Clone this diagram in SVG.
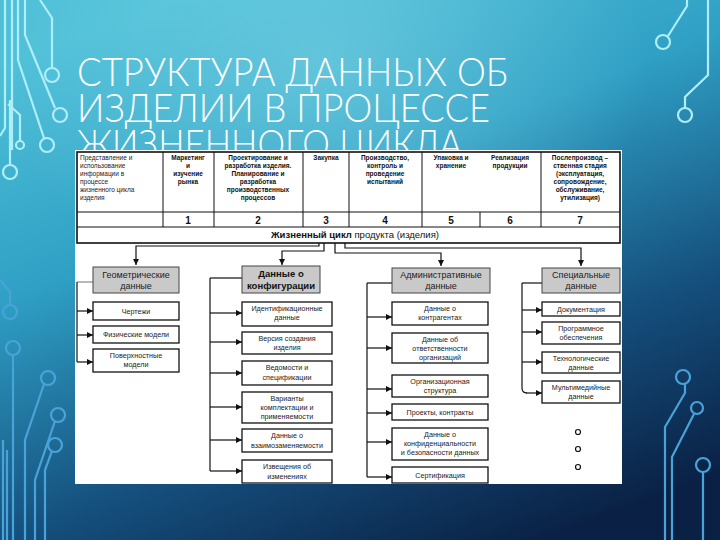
<svg xmlns="http://www.w3.org/2000/svg" width="720" height="540" viewBox="0 0 720 540">
<defs>
<linearGradient id="bg" x1="0.25" y1="0" x2="0.75" y2="1">
<stop offset="0" stop-color="#4fc0d8"/>
<stop offset="0.35" stop-color="#2f9fc4"/>
<stop offset="0.7" stop-color="#15507e"/>
<stop offset="1" stop-color="#0a2145"/>
</linearGradient>
<radialGradient id="hl" cx="0.45" cy="0.12" r="0.45">
<stop offset="0" stop-color="#7fd6e6" stop-opacity="0.55"/>
<stop offset="1" stop-color="#7fd6e6" stop-opacity="0"/>
</radialGradient>
<clipPath id="titleclip"><rect x="0" y="0" width="720" height="150"/></clipPath>
<marker id="ar" viewBox="0 0 8 8" refX="8" refY="4" markerWidth="6" markerHeight="6" markerUnits="userSpaceOnUse" orient="auto">
<path d="M0,0 L8,4 L0,8 z" fill="#111"/>
</marker>
<style>
.ct{fill:none;stroke:#aeeef8;stroke-width:2.2}
.cb{fill:none;stroke:#4aa3d8;stroke-width:2.2}
.title{font-family:Lato,"Open Sans","Liberation Sans",sans-serif;font-weight:300;font-size:40px;fill:#ffffff}
.t{font-family:"Liberation Sans",Arial,sans-serif;font-size:7.2px;fill:#222;text-anchor:middle}
.tl{font-family:"Liberation Sans",Arial,sans-serif;font-size:6.5px;fill:#222}
.tb{font-family:"Liberation Sans",Arial,sans-serif;font-size:6.5px;fill:#111;font-weight:bold;text-anchor:middle}
.num{font-family:"Liberation Sans",Arial,sans-serif;font-size:10px;fill:#111;font-weight:bold;text-anchor:middle}
.h{font-family:"Liberation Sans",Arial,sans-serif;font-size:9px;fill:#222;text-anchor:middle}
.hb{font-family:"Liberation Sans",Arial,sans-serif;font-size:9.5px;fill:#111;font-weight:bold;text-anchor:middle}
.hbox{fill:#c9c9c9;stroke:#444;stroke-width:1}
.box{fill:#fff;stroke:#111;stroke-width:1.3}
.cell{fill:none;stroke:#111;stroke-width:1}
.ln{fill:none;stroke:#111;stroke-width:1.2}
.lg{fill:none;stroke:#888;stroke-width:1.2}
.arr{fill:none;stroke:#111;stroke-width:1.2;marker-end:url(#ar)}
</style>
</defs>
<rect width="720" height="540" fill="url(#bg)"/>
<rect width="720" height="540" fill="url(#hl)"/>

<g id="circuits">
<path class="ct" d="M5,0 V128 L0,136"/>
<path class="ct" d="M12,0 V150"/>
<path class="ct" d="M40,0 L52,18 V68"/>
<circle class="ct" cx="52" cy="75" r="7"/>
<path class="ct" d="M25,0 V35 L55,108"/>
<circle class="ct" cx="60" cy="115" r="7"/>
<path class="ct" d="M18,0 V60 L44,138"/>
<circle class="ct" cx="47" cy="145" r="7"/>
<path class="ct" d="M20,141 V115 L8,104"/>
<circle class="ct" cx="20" cy="145" r="4"/>
<path class="ct" d="M10,165 V100"/>
<circle class="ct" cx="10" cy="172" r="7"/>
<path class="ct" d="M687,0 V6 L668,36"/>
<circle class="ct" cx="663" cy="42" r="7"/>
<path class="ct" d="M708,0 V75 L685,97 V108"/>
<circle class="ct" cx="685" cy="115" r="7"/>
<path class="cb" d="M0,280 L10,292 V305"/>
<circle class="cb" cx="10" cy="312" r="7"/>
<path class="cb" d="M13,355 V540"/>
<circle class="cb" cx="13" cy="348" r="7"/>
<path class="cb" d="M44,384 L25,440 V540"/>
<circle class="cb" cx="48" cy="378" r="7"/>
<path class="cb" d="M55,421 L35,480 V540"/>
<circle class="cb" cx="58" cy="415" r="7"/>
<path class="cb" d="M52,451 L45,470 V540"/>
<circle class="cb" cx="55" cy="445" r="7"/>
<path class="cb" d="M3,440 V540 M7,450 V540"/>
<path class="cb" d="M685,384 V393 L665,427 V540"/>
<circle class="cb" cx="683" cy="377" r="7"/>
<path class="cb" d="M694,414 L672,457 V540"/>
<circle class="cb" cx="697" cy="408" r="6"/>
<path class="cb" d="M703,472 V540"/>
<circle class="cb" cx="703" cy="465" r="7"/>
</g>

<g id="title">
<text class="title" x="77" y="86" textLength="431" lengthAdjust="spacingAndGlyphs">СТРУКТУРА ДАННЫХ ОБ</text>
<text class="title" x="77" y="122" textLength="413" lengthAdjust="spacingAndGlyphs">ИЗДЕЛИИ В ПРОЦЕССЕ</text>
<text class="title" x="77" y="158" textLength="385" lengthAdjust="spacingAndGlyphs" clip-path="url(#titleclip)">ЖИЗНЕННОГО ЦИКЛА</text>
</g>

<rect id="picture" x="75" y="150" width="547" height="334" fill="#ffffff"/>

<g id="table">
<rect x="77" y="152" width="543" height="91" fill="none" stroke="#111" stroke-width="1.6"/>
<line class="cell" x1="77" y1="212" x2="620" y2="212"/>
<line class="cell" x1="77" y1="227" x2="620" y2="227"/>
<path class="cell" d="M163,152 V227 M214,152 V227 M303,152 V227 M349,152 V227 M422,152 V227 M480,212 V227 M541,152 V227"/>
<text class="tl" x="80" y="160">Представление и</text>
<text class="tl" x="80" y="168">использование</text>
<text class="tl" x="80" y="176">информации в</text>
<text class="tl" x="80" y="184">процессе</text>
<text class="tl" x="80" y="192">жизненного цикла</text>
<text class="tl" x="80" y="200">изделия</text>
<text class="tb" x="188" y="160">Маркетинг</text>
<text class="tb" x="188" y="168">и</text>
<text class="tb" x="188" y="176">изучение</text>
<text class="tb" x="188" y="184">рынка</text>
<text class="tb" x="258" y="160">Проектирование и</text>
<text class="tb" x="258" y="168">разработка изделия.</text>
<text class="tb" x="258" y="176">Планирование и</text>
<text class="tb" x="258" y="184">разработка</text>
<text class="tb" x="258" y="192">производственных</text>
<text class="tb" x="258" y="200">процессов</text>
<text class="tb" x="326" y="160">Закупка</text>
<text class="tb" x="385" y="160">Производство,</text>
<text class="tb" x="385" y="168">контроль и</text>
<text class="tb" x="385" y="176">проведение</text>
<text class="tb" x="385" y="184">испытаний</text>
<text class="tb" x="451" y="160">Упаковка и</text>
<text class="tb" x="451" y="168">хранение</text>
<text class="tb" x="510" y="160">Реализация</text>
<text class="tb" x="510" y="168">продукции</text>
<text class="tb" x="580" y="160">Послепроизвод –</text>
<text class="tb" x="580" y="168">ственная стадия</text>
<text class="tb" x="580" y="176">(эксплуатация,</text>
<text class="tb" x="580" y="184">сопровождение,</text>
<text class="tb" x="580" y="192">обслуживание,</text>
<text class="tb" x="580" y="200">утилизация)</text>
<text class="num" x="188" y="224">1</text>
<text class="num" x="258" y="224">2</text>
<text class="num" x="326" y="224">3</text>
<text class="num" x="385" y="224">4</text>
<text class="num" x="451" y="224">5</text>
<text class="num" x="510" y="224">6</text>
<text class="num" x="580" y="224">7</text>
<text class="hb" x="355" y="238" font-size="9"><tspan>Жизненный цикл </tspan><tspan font-weight="normal">продукта (изделия)</tspan></text>
</g>

<g id="connectors">
<path class="arr" d="M319,243 V246 H136 V265"/>
<path class="arr" d="M324,243 V251 H282 V265"/>
<path class="arr" d="M335,243 V253 H441 V266"/>
<path class="arr" d="M345,243 V248 H581 V266"/>
<path class="lg" d="M77,282 H93"/>
<path class="ln" d="M77,282 V362"/>
<path class="arr" d="M77,311 H93"/>
<path class="arr" d="M77,335 H93"/>
<path class="arr" d="M77,362 H93"/>
<path class="ln" d="M210,278 V471"/>
<path class="ln" d="M210,278 H242"/>
<path class="arr" d="M210,313 H242"/>
<path class="arr" d="M210,342 H242"/>
<path class="arr" d="M210,373 H242"/>
<path class="arr" d="M210,407 H242"/>
<path class="arr" d="M210,440 H242"/>
<path class="arr" d="M210,471 H242"/>
<path class="ln" d="M367,283 V477"/>
<path class="ln" d="M367,283 H392"/>
<path class="arr" d="M367,317 H392"/>
<path class="arr" d="M367,348 H392"/>
<path class="arr" d="M367,389 H392"/>
<path class="arr" d="M367,413 H392"/>
<path class="arr" d="M367,442 H392"/>
<path class="arr" d="M367,477 H392"/>
<path class="ln" d="M522,283 H542"/>
<path class="ln" d="M522,283 V388 Q522,393 527,393"/>
<path class="arr" d="M522,310 H542"/>
<path class="arr" d="M522,332 H542"/>
<path class="arr" d="M522,362 H542"/>
<path class="arr" d="M526,393 H542"/>
</g>

<g id="geometric">
<rect class="hbox" x="93" y="267" width="86" height="26"/>
<text class="h" x="136" y="278">Геометрические</text>
<text class="h" x="136" y="289">данные</text>
</g>
<g id="g-drawings"><rect class="box" x="93" y="302" width="86" height="18"/><text class="t" x="136" y="314">Чертежи</text></g>
<g id="g-physical"><rect class="box" x="93" y="326" width="86" height="17"/><text class="t" x="136" y="337">Физические модели</text></g>
<g id="g-surface"><rect class="box" x="93" y="349" width="86" height="23"/><text class="t" x="136" y="358">Поверхностные</text><text class="t" x="136" y="367">модели</text></g>

<g id="configuration">
<rect class="hbox" x="242" y="266" width="78" height="27" stroke="#111" stroke-width="1.6"/>
<text class="hb" x="281" y="277">Данные о</text>
<text class="hb" x="281" y="289">конфигурации</text>
</g>
<g id="c-ident"><rect class="box" x="242" y="302" width="90" height="24"/><text class="t" x="287" y="311">Идентификационные</text><text class="t" x="287" y="320">данные</text></g>
<g id="c-version"><rect class="box" x="242" y="332" width="90" height="22"/><text class="t" x="287" y="341">Версия создания</text><text class="t" x="287" y="350">изделия</text></g>
<g id="c-spec"><rect class="box" x="242" y="361" width="90" height="24"/><text class="t" x="287" y="370">Ведомости и</text><text class="t" x="287" y="380">спецификации</text></g>
<g id="c-variants"><rect class="box" x="242" y="392" width="90" height="31"/><text class="t" x="287" y="401">Варианты</text><text class="t" x="287" y="410">комплектации и</text><text class="t" x="287" y="419">применяемости</text></g>
<g id="c-interchange"><rect class="box" x="242" y="429" width="90" height="23"/><text class="t" x="287" y="438">Данные о</text><text class="t" x="287" y="448">взаимозаменяемости</text></g>
<g id="c-notices"><rect class="box" x="242" y="460" width="90" height="23"/><text class="t" x="287" y="469">Извещения об</text><text class="t" x="287" y="479">изменениях</text></g>

<g id="administrative">
<rect class="hbox" x="392" y="268" width="98" height="25"/>
<text class="h" x="441" y="278">Административные</text>
<text class="h" x="441" y="289">данные</text>
</g>
<g id="a-contractors"><rect class="box" x="392" y="302" width="96" height="23"/><text class="t" x="440" y="311">Данные о</text><text class="t" x="440" y="320">контрагентах</text></g>
<g id="a-responsibility"><rect class="box" x="392" y="333" width="96" height="30"/><text class="t" x="440" y="342">Данные об</text><text class="t" x="440" y="351">ответственности</text><text class="t" x="440" y="360">организаций</text></g>
<g id="a-structure"><rect class="box" x="392" y="375" width="96" height="22"/><text class="t" x="440" y="384">Организационная</text><text class="t" x="440" y="393">структура</text></g>
<g id="a-projects"><rect class="box" x="392" y="404" width="96" height="16"/><text class="t" x="440" y="415">Проекты, контракты</text></g>
<g id="a-security"><rect class="box" x="392" y="428" width="96" height="32"/><text class="t" x="440" y="437">Данные о</text><text class="t" x="440" y="446">конфиденциальности</text><text class="t" x="440" y="455">и безопасности данных</text></g>
<g id="a-cert"><rect class="box" x="392" y="467" width="96" height="16"/><text class="t" x="440" y="478">Сертификация</text></g>

<g id="special">
<rect class="hbox" x="542" y="268" width="78" height="25"/>
<text class="h" x="581" y="278">Специальные</text>
<text class="h" x="581" y="289">данные</text>
</g>
<g id="s-docs"><rect class="box" x="542" y="302" width="78" height="14"/><text class="t" x="581" y="312">Документация</text></g>
<g id="s-software"><rect class="box" x="542" y="322" width="78" height="22"/><text class="t" x="581" y="331">Программное</text><text class="t" x="581" y="340">обеспечения</text></g>
<g id="s-tech"><rect class="box" x="542" y="352" width="78" height="21"/><text class="t" x="581" y="361">Технологические</text><text class="t" x="581" y="370">данные</text></g>
<g id="s-multimedia"><rect class="box" x="542" y="381" width="78" height="22"/><text class="t" x="581" y="390">Мультимедийные</text><text class="t" x="581" y="399">данные</text></g>
<g id="ellipsis">
<circle cx="578" cy="432" r="2.5" fill="#fff" stroke="#111" stroke-width="1.2"/>
<circle cx="578" cy="449" r="2.5" fill="#fff" stroke="#111" stroke-width="1.2"/>
<circle cx="578" cy="467" r="2.5" fill="#fff" stroke="#111" stroke-width="1.2"/>
</g>
</svg>
